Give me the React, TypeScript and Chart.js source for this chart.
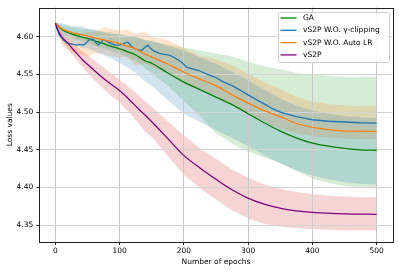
import React, { useEffect, useRef } from "react";
import { Chart, registerables } from "chart.js";

Chart.register(...registerables);

// ---------- data ----------
const bandEpochs = [0, 10, 25, 40, 50, 60, 75, 85, 100, 110, 125, 140, 150, 175, 200, 225, 250, 275, 300, 325, 350, 375, 400, 425, 450, 475, 500];

const gaLoss = [4.618, 4.610, 4.604, 4.600, 4.598, 4.595, 4.591, 4.588, 4.584, 4.581, 4.576, 4.568, 4.565, 4.552, 4.540, 4.530, 4.520, 4.510, 4.498, 4.486, 4.475, 4.466, 4.459, 4.455, 4.452, 4.450, 4.4495];
const gaBandUpper = [4.619, 4.618, 4.614, 4.614, 4.611, 4.609, 4.606, 4.604, 4.603, 4.601, 4.600, 4.596, 4.595, 4.588, 4.582, 4.573, 4.564, 4.554, 4.542, 4.530, 4.518, 4.509, 4.502, 4.498, 4.495, 4.493, 4.492];
const gaBandLower = [4.617, 4.602, 4.594, 4.586, 4.585, 4.581, 4.576, 4.572, 4.565, 4.561, 4.552, 4.540, 4.535, 4.516, 4.498, 4.487, 4.476, 4.466, 4.455, 4.443, 4.432, 4.423, 4.416, 4.411, 4.407, 4.405, 4.404];

const autoLrLoss = [4.618, 4.611, 4.606, 4.603, 4.601, 4.599, 4.596, 4.594, 4.591, 4.588, 4.584, 4.577, 4.573, 4.564, 4.553, 4.544, 4.535, 4.523, 4.512, 4.502, 4.494, 4.485, 4.480, 4.477, 4.475, 4.4748, 4.4746];
const autoLrBandUpper = [4.619, 4.616, 4.613, 4.611, 4.610, 4.609, 4.607, 4.606, 4.604, 4.602, 4.600, 4.596, 4.594, 4.590, 4.586, 4.582, 4.578, 4.574, 4.567, 4.561, 4.557, 4.552, 4.550, 4.548, 4.547, 4.547, 4.547];
const autoLrBandLower = [4.617, 4.606, 4.599, 4.595, 4.592, 4.589, 4.585, 4.582, 4.578, 4.574, 4.568, 4.558, 4.552, 4.535, 4.515, 4.495, 4.472, 4.458, 4.448, 4.440, 4.433, 4.422, 4.412, 4.406, 4.402, 4.400, 4.400];

const clipBandUpper = [4.619, 4.606, 4.603, 4.604, 4.607, 4.606, 4.613, 4.611, 4.608, 4.610, 4.604, 4.607, 4.600, 4.596, 4.585, 4.575, 4.570, 4.562, 4.551, 4.540, 4.530, 4.521, 4.514, 4.511, 4.509, 4.508, 4.508];
const clipBandLower = [4.617, 4.588, 4.580, 4.576, 4.574, 4.578, 4.578, 4.575, 4.572, 4.574, 4.562, 4.565, 4.560, 4.552, 4.537, 4.530, 4.522, 4.510, 4.498, 4.488, 4.478, 4.472, 4.468, 4.466, 4.465, 4.464, 4.464];

const vs2pBandUpper = [4.619, 4.605, 4.594, 4.582, 4.576, 4.569, 4.559, 4.553, 4.543, 4.536, 4.526, 4.514, 4.507, 4.488, 4.469, 4.452, 4.438, 4.424, 4.413, 4.404, 4.398, 4.394, 4.391, 4.389, 4.388, 4.387, 4.387];
const vs2pBandLower = [4.617, 4.595, 4.578, 4.562, 4.552, 4.543, 4.531, 4.523, 4.513, 4.504, 4.490, 4.474, 4.467, 4.442, 4.417, 4.399, 4.384, 4.370, 4.359, 4.352, 4.348, 4.346, 4.345, 4.344, 4.343, 4.343, 4.343];

const clipEpochs = [0, 3, 6, 12, 18, 23, 28, 33, 38, 43, 47, 51, 55, 59, 63, 67, 70, 74, 78, 82, 87, 93, 99, 105, 109, 113, 118, 124, 129, 134, 139, 144, 148, 152, 157, 162, 168, 175, 182, 190, 197, 204, 212, 224, 235, 250, 262, 276, 288, 300, 312, 325, 337, 350, 362, 375, 387, 400, 425, 450, 475, 500];
const clipLoss = [4.618, 4.609, 4.603, 4.596, 4.592, 4.591, 4.590, 4.589, 4.590, 4.589, 4.591, 4.595, 4.597, 4.597, 4.592, 4.589, 4.592, 4.596, 4.595, 4.593, 4.591, 4.589, 4.589, 4.590, 4.592, 4.593, 4.588, 4.584, 4.583, 4.582, 4.586, 4.589, 4.585, 4.582, 4.580, 4.578, 4.577, 4.576, 4.574, 4.570, 4.566, 4.560, 4.558, 4.555, 4.551, 4.546, 4.540, 4.535, 4.529, 4.523, 4.517, 4.511, 4.505, 4.500, 4.497, 4.494, 4.492, 4.490, 4.488, 4.487, 4.486, 4.4855];

const vs2pEpochs = [0, 5, 10, 18, 30, 43, 56, 69, 82, 95, 116, 130, 147, 175, 198, 225, 250, 275, 297, 325, 353, 375, 400, 450, 500];
const vs2pLoss = [4.618, 4.607, 4.600, 4.593, 4.581, 4.569, 4.559, 4.549, 4.540, 4.532, 4.516, 4.504, 4.490, 4.465, 4.444, 4.426, 4.411, 4.397, 4.387, 4.378, 4.372, 4.369, 4.367, 4.365, 4.3645];

const seriesNames = ["GA", "vS2P W.O. \u03b3-clipping", "vS2P W.O. Auto LR", "vS2P"];
const xTicks = [0, 100, 200, 300, 400, 500];
const yTicks = [4.35, 4.4, 4.45, 4.5, 4.55, 4.6];

// ---------- styles ----------
const LINE_COLORS = ["#008000", "#1f77b4", "#ff7f0e", "#800080"];
const BAND_COLORS = ["rgba(31,119,180,0.2)", "rgba(255,127,14,0.2)", "rgba(44,160,44,0.2)", "rgba(214,39,40,0.2)"];
const FONT = { family: "'DejaVu Sans', sans-serif", size: 7.5 };

const pts = (xs: number[], ys: number[]) => xs.map((x, i) => ({ x, y: ys[i] }));

const frameLegendPlugin = {
  id: "frameLegend",
  afterDraw(chart: any) {
    const { ctx, chartArea } = chart;
    ctx.save();
    ctx.strokeStyle = "#222";
    ctx.lineWidth = 1;
    ctx.strokeRect(
      Math.round(chartArea.left) + 0.5,
      Math.round(chartArea.top) + 0.5,
      Math.round(chartArea.right) - Math.round(chartArea.left),
      Math.round(chartArea.bottom) - Math.round(chartArea.top)
    );
    // legend
    const w = 111;
    const h = 50;
    const x0 = Math.round(chartArea.right - 3.5 - w) + 0.5;
    const y0 = Math.round(chartArea.top + 4.5) + 0.5;
    const r = 2;
    ctx.beginPath();
    ctx.moveTo(x0 + r, y0);
    ctx.lineTo(x0 + w - r, y0);
    ctx.quadraticCurveTo(x0 + w, y0, x0 + w, y0 + r);
    ctx.lineTo(x0 + w, y0 + h - r);
    ctx.quadraticCurveTo(x0 + w, y0 + h, x0 + w - r, y0 + h);
    ctx.lineTo(x0 + r, y0 + h);
    ctx.quadraticCurveTo(x0, y0 + h, x0, y0 + h - r);
    ctx.lineTo(x0, y0 + r);
    ctx.quadraticCurveTo(x0, y0, x0 + r, y0);
    ctx.closePath();
    ctx.fillStyle = "rgba(255,255,255,0.8)";
    ctx.fill();
    ctx.strokeStyle = "#cccccc";
    ctx.stroke();
    ctx.font = `${FONT.size}px ${FONT.family}`;
    ctx.textBaseline = "middle";
    ctx.textAlign = "left";
    seriesNames.forEach((name, i) => {
      const yy = y0 + 5.5 + i * 12.3;
      ctx.strokeStyle = LINE_COLORS[i];
      ctx.lineWidth = 1.3;
      ctx.beginPath();
      ctx.moveTo(x0 + 2, yy);
      ctx.lineTo(x0 + 18, yy);
      ctx.stroke();
      ctx.fillStyle = "#000";
      ctx.fillText(name, x0 + 24.5, yy);
    });
    ctx.restore();
  },
};

export default function App() {
  const ref = useRef<HTMLCanvasElement | null>(null);

  useEffect(() => {
    if (!ref.current) return;
    const bandDs = (lower: number[], upper: number[], color: string) => [
      {
        data: pts(bandEpochs, lower),
        borderWidth: 0,
        pointRadius: 0,
        fill: false,
        order: 10,
        tension: 0,
        borderColor: "rgba(0,0,0,0)",
      },
      {
        data: pts(bandEpochs, upper),
        borderWidth: 0,
        pointRadius: 0,
        fill: "-1",
        backgroundColor: color,
        order: 10,
        tension: 0,
        borderColor: "rgba(0,0,0,0)",
      },
    ];
    const lineDs = (xs: number[], ys: number[], i: number, order: number, smooth: boolean) => ({
      label: seriesNames[i],
      data: pts(xs, ys),
      borderColor: LINE_COLORS[i],
      borderWidth: 1.3,
      pointRadius: 0,
      fill: false,
      order,
      cubicInterpolationMode: smooth ? "monotone" : "default",
      tension: 0,
    });

    const chart = new Chart(ref.current, {
      type: "line",
      data: {
        datasets: [
          lineDs(bandEpochs, gaLoss, 0, 3, true),
          lineDs(clipEpochs, clipLoss, 1, 2, false),
          lineDs(bandEpochs, autoLrLoss, 2, 1, true),
          lineDs(vs2pEpochs, vs2pLoss, 3, 0, true),
          ...bandDs(gaBandLower, gaBandUpper, BAND_COLORS[0]),
          ...bandDs(clipBandLower, clipBandUpper, BAND_COLORS[1]),
          ...bandDs(autoLrBandLower, autoLrBandUpper, BAND_COLORS[2]),
          ...bandDs(vs2pBandLower, vs2pBandUpper, BAND_COLORS[3]),
        ] as any,
      },
      options: {
        animation: false,
        responsive: false,
        devicePixelRatio: 1,
        layout: { padding: { left: 0, top: 5, right: 6.3, bottom: 0 } },
        plugins: {
          legend: { display: false },
          tooltip: { enabled: false },
          filler: { drawTime: "beforeDraw", propagate: false },
        } as any,
        scales: {
          x: {
            type: "linear",
            min: -25,
            max: 525,
            afterBuildTicks: (s: any) => {
              s.ticks = xTicks.map((v) => ({ value: v }));
            },
            afterFit: (s: any) => {
              s.height = 30;
            },
            ticks: {
              font: FONT,
              color: "#000",
              padding: 2,
              maxRotation: 0,
              callback: (v: any) => String(v),
            },
            grid: { color: "#c8c8c8", lineWidth: 1, tickLength: 3, tickColor: "#222", drawTicks: true },
            border: { display: false },
            title: {
              display: true,
              text: "Number of epochs",
              font: FONT,
              color: "#000",
              padding: { top: 0, bottom: 5.8 },
            },
          },
          y: {
            type: "linear",
            min: 4.3277,
            max: 4.639,
            afterBuildTicks: (s: any) => {
              s.ticks = yTicks.map((v) => ({ value: v }));
            },
            afterFit: (s: any) => {
              s.width = 39.3;
            },
            ticks: {
              font: FONT,
              color: "#000",
              padding: 3,
              callback: (v: any) => Number(v).toFixed(2),
            },
            grid: { color: "#d4d4d4", lineWidth: 1, tickLength: 3, tickColor: "#222", drawTicks: true },
            border: { display: false },
            title: {
              display: true,
              text: "Loss values",
              font: FONT,
              color: "#000",
              padding: { top: 5.5, bottom: 0 },
            },
          },
        },
      } as any,
      plugins: [frameLegendPlugin],
    });
    return () => chart.destroy();
  }, []);

  return (
    <div style={{ position: "absolute", left: 0, top: 0, width: 399, height: 272, background: "#fff" }}>
      <canvas ref={ref} width={399} height={272} style={{ display: "block", width: 399, height: 272 }} />
    </div>
  );
}
